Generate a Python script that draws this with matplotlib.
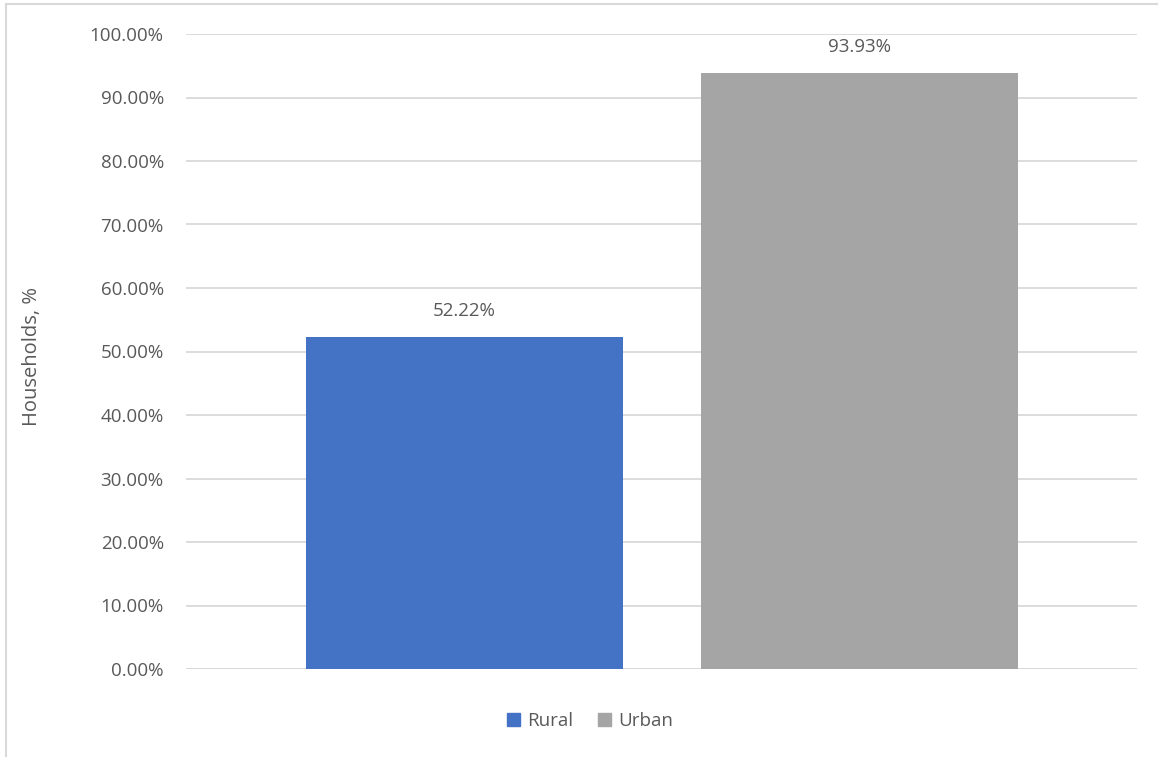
import matplotlib.pyplot as plt
from matplotlib.patches import Rectangle
from matplotlib.ticker import FuncFormatter

# data
series = ["Rural", "Urban"]
values = [52.22, 93.93]
colors = ["#4472C4", "#A5A5A5"]
yticks = list(range(0, 101, 10))

TEXT = "#595959"
GRID = "#D9D9D9"
FS = 13.5

plt.rcParams['font.family'] = ['Open Sans', 'DejaVu Sans']

fig = plt.figure(figsize=(11.58, 7.57), dpi=100)
ax = fig.add_axes([186 / 1158, 88 / 757, 951 / 1158, 635 / 757])

# chart-area frame (cut off at the right and bottom)
fig.patches.append(Rectangle((6 / 1158, -0.05), 1.1, (753 - 0) / 757 + 0.05,
                             transform=fig.transFigure, fill=False,
                             edgecolor=GRID, linewidth=1.5))

xpos = [0, 1]
width = 317 / 395
ax.bar(xpos, values, width=width, color=colors, label=series, zorder=2)

for x, v in zip(xpos, values):
    ax.text(x, v + 4.1, f"{v:.2f}%", ha='center', va='center',
            fontsize=FS, color=TEXT)

ax.set_xlim(-278.5 / 395, 672.5 / 395)
ax.set_ylim(0, 100)
ax.set_yticks(yticks)
ax.yaxis.set_major_formatter(FuncFormatter(lambda y, _: f"{y:.2f}%"))
ax.set_xticks([])
ax.tick_params(axis='y', length=0, pad=16, labelsize=FS, labelcolor=TEXT)
ax.grid(True, axis='y', color=GRID, linewidth=1.3, zorder=0)
for s in ax.spines.values():
    s.set_visible(False)
ax.axhline(0, color=GRID, linewidth=1.3, zorder=1)

fig.text(32 / 1158, 1 - 357 / 757, "Households, %", rotation=90,
         ha='center', va='center', fontsize=14.5, color=TEXT)

handles = [Rectangle((0, 0), 1, 1, color=c) for c in colors]
fig.legend(handles, series, loc='center', bbox_to_anchor=(590 / 1158, 1 - 721 / 757),
           ncol=2, frameon=False, fontsize=FS, labelcolor=TEXT,
           handlelength=0.7, handleheight=0.7, handletextpad=0.4,
           columnspacing=1.3)

fig.savefig("out.png", dpi=100)
